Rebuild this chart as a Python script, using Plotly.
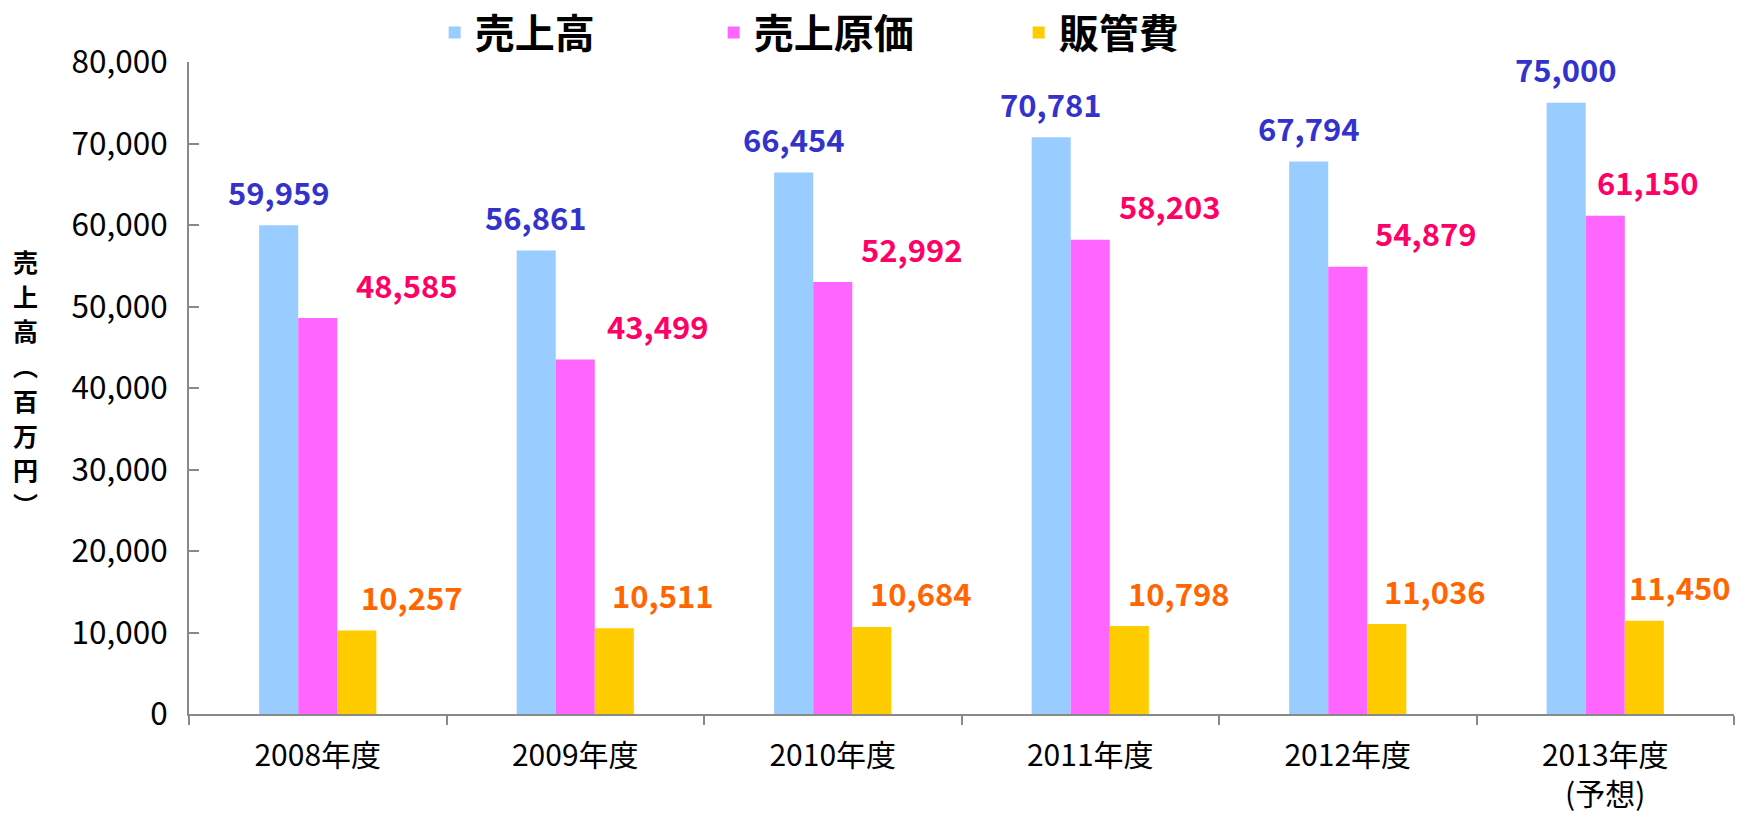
import plotly.graph_objects as go

# ---- data ----
categories = ["2008年度", "2009年度", "2010年度", "2011年度", "2012年度", "2013年度"]
category_notes = ["", "", "", "", "", "(予想)"]
sales = [59959, 56861, 66454, 70781, 67794, 75000]
cost_of_sales = [48585, 43499, 52992, 58203, 54879, 61150]
sga = [10257, 10511, 10684, 10798, 11036, 11450]
series_names = ["売上高", "売上原価", "販管費"]
y_tick_values = [0, 10000, 20000, 30000, 40000, 50000, 60000, 70000, 80000]
y_title_chars = ["売", "上", "高", "︵", "百", "万", "円", "︶"]

# ---- style ----
bar_colors = ["#99CCFF", "#FF66FF", "#FFCC00"]
label_colors = ["#3333CC", "#FF0066", "#FF6600"]
legend_widths = [234, 260, 120]
# label horizontal offsets (px) relative to category centre
label_dx = [
    [-39, -39, -39, -39, -39, -39],
    [89, 83, 79, 80, 78, 43],
    [94, 88, 88, 89, 87, 75],
]
label_dy = 34
title_top_shift = 127
title_step = 34.7
axis_color = "#898989"
FONT = "Noto Sans CJK JP"

x_tick_text = [c + ("<br>" + n if n else "") for c, n in zip(categories, category_notes)]

fig = go.Figure()
all_series = [sales, cost_of_sales, sga]
for name, vals, col, lw in zip(series_names, all_series, bar_colors, legend_widths):
    fig.add_trace(go.Bar(
        x=categories, y=vals, name=name,
        marker=dict(color=col, line=dict(width=0)),
        legendwidth=lw,
    ))

annotations = []
for s, vals in enumerate(all_series):
    for i, (c, v) in enumerate(zip(categories, vals)):
        annotations.append(dict(
            x=c, y=v, xref="x", yref="y",
            text=f"{v:,}", showarrow=False,
            xanchor="center", yanchor="middle",
            xshift=label_dx[s][i], yshift=label_dy,
            font=dict(family=FONT, size=31, color=label_colors[s], weight="bold"),
        ))

# vertical axis title, one upright character per line
for k, ch in enumerate(y_title_chars):
    annotations.append(dict(
        x=0, y=0.5, xref="paper", yref="paper",
        text=ch, showarrow=False, xanchor="center", yanchor="middle",
        xshift=-164, yshift=title_top_shift - title_step * k,
        font=dict(family=FONT, size=25, color="black", weight="bold"),
    ))

fig.update_layout(
    width=1763, height=817,
    margin=dict(l=189, r=29, t=62, b=103, autoexpand=False),
    paper_bgcolor="white", plot_bgcolor="white",
    barmode="group", bargap=0.545, bargroupgap=0,
    showlegend=True,
    legend=dict(
        orientation="h", x=0.159, xanchor="left",
        y=1, yref="container", yanchor="top",
        font=dict(family=FONT, size=40, color="black", weight="bold"),
        bgcolor="rgba(0,0,0,0)",
    ),
    annotations=annotations,
    xaxis=dict(
        type="category", tickson="boundaries",
        tickvals=categories, ticktext=x_tick_text,
        showline=True, linecolor=axis_color, linewidth=2,
        ticks="outside", ticklen=9, tickcolor=axis_color, tickwidth=2,
        tickfont=dict(family=FONT, size=30, color="black"),
        ticklabelstandoff=14,
        showgrid=False, zeroline=False,
    ),
    yaxis=dict(
        range=[0, 80000], tickvals=y_tick_values,
        tickformat=",d",
        showline=True, linecolor=axis_color, linewidth=2,
        ticks="inside", ticklen=10, tickcolor=axis_color, tickwidth=2,
        tickfont=dict(family=FONT, size=31.5, color="black"),
        ticklabelstandoff=13,
        showgrid=False, zeroline=False,
    ),
)

fig.write_html(
    "out.html",
    config={"displayModeBar": False},
    post_script="document.body.style.margin='0';document.body.style.overflow='hidden';",
)
